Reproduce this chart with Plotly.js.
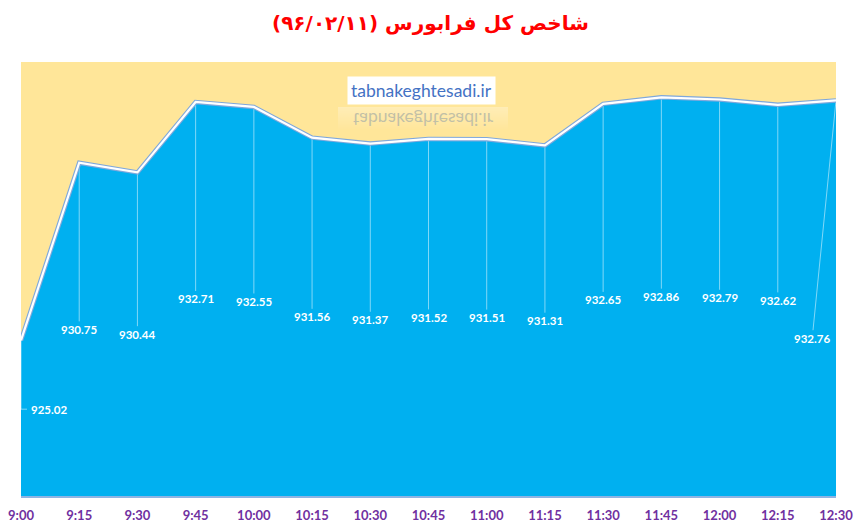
<!DOCTYPE html>
<html>
<head>
<meta charset="utf-8">
<script src="https://cdn.plot.ly/plotly-3.0.1.min.js"></script>
<style>
  html, body { margin: 0; padding: 0; background: #ffffff; }
  #wrap { position: relative; width: 861px; height: 527px; }
  #chart { width: 861px; height: 527px; }
  #reflect {
    position: absolute; left: 338px; top: 107px; width: 170px; height: 24px;
    font-family: Lato, "Open Sans", sans-serif; font-size: 17.5px; color: #4472C4;
    text-align: center; line-height: 24px; transform: scaleY(-1); opacity: 0.32;
    pointer-events: none;
    background: linear-gradient(to top, rgba(255,255,255,0.9), rgba(255,255,255,0));
  }
</style>
</head>
<body>
<div id="wrap">
  <div id="chart"></div>
  <div id="reflect">tabnakeghtesadi.ir</div>
</div>
<script>
// ---- data ----
const times = ['9:00','9:15','9:30','9:45','10:00','10:15','10:30','10:45','11:00','11:15','11:30','11:45','12:00','12:15','12:30'];
const values = [925.02, 930.75, 930.44, 932.71, 932.55, 931.56, 931.37, 931.52, 931.51, 931.31, 932.65, 932.86, 932.79, 932.62, 932.76];
const titleText = '\u200Fشاخص کل فرابورس (۹۶/۰۲/۱۱)\u200F';
const watermark = 'tabnakeghtesadi.ir';
const yMin = 920, yMax = 934;

// ---- layout helpers ----
const W = 861, H = 527;
const M = {l: 21, r: 25, t: 62, b: 31};
const idx = times.map((_, i) => i);
const n = times.length - 1;
const pu = (yMax - yMin) / (H - M.t - M.b);   // data units per px (y)
const xu = n / (W - M.l - M.r);                // data units per px (x)

// label placement (Excel-like "center" labels), with manual offsets for first/last
const labelShift = idx.map(i => i === 0 ? {x: 28, y: 9} : (i === n ? {x: -24, y: -40} : {x: 0, y: 0}));

// leader lines
const lx = [], ly = [];
idx.forEach(i => {
  const v = values[i];
  const mid = (v + yMin) / 2;
  const s = labelShift[i];
  if (i === 0) {
    const yl = mid + s.y * pu;
    lx.push(i, i, i + 6 * xu, null);
    ly.push(v, yl, yl, null);
  } else if (i === n) {
    lx.push(i, i + (s.x + 1) * xu, null);
    ly.push(v, mid + (s.y + 8) * pu, null);
  } else {
    lx.push(i, i, null);
    ly.push(v, mid + 8 * pu, null);
  }
});

const traces = [
  {x: idx, y: values, type: 'scatter', mode: 'lines', fill: 'tozeroy',
   fillcolor: '#00B0F0', line: {width: 0, color: '#00B0F0'}, hoverinfo: 'skip'},
  {x: lx, y: ly, type: 'scatter', mode: 'lines',
   line: {width: 1, color: 'rgba(255,255,255,0.5)'}, hoverinfo: 'skip'},
  {x: idx, y: values, type: 'scatter', mode: 'lines',
   line: {width: 4.5, color: '#7FA8DC'}, hoverinfo: 'skip'},
  {x: idx, y: values, type: 'scatter', mode: 'lines',
   line: {width: 2.2, color: '#FFFFFF'}, hoverinfo: 'skip'}
];

const annotations = idx.map(i => ({
  x: i, y: (values[i] + yMin) / 2, xref: 'x', yref: 'y',
  text: values[i].toFixed(2), showarrow: false,
  xshift: labelShift[i].x, yshift: labelShift[i].y,
  font: {family: 'Lato, "Open Sans", sans-serif', size: 11.5, color: '#FFFFFF', weight: 'bold'}
}));
annotations.push({
  xref: 'paper', yref: 'paper', x: 0.492, y: 0.935, xanchor: 'center', yanchor: 'middle',
  text: watermark, showarrow: false, bgcolor: '#FFFFFF', borderpad: 3,
  font: {family: 'Lato, "Open Sans", sans-serif', size: 17.5, color: '#4472C4'}
});

const layout = {
  width: W, height: H,
  margin: M,
  paper_bgcolor: '#FFFFFF',
  plot_bgcolor: '#FFE699',
  showlegend: false,
  title: {
    text: titleText, xref: 'container', yref: 'container', x: 0.5, y: 1 - 23 / H,
    xanchor: 'center', yanchor: 'middle',
    font: {family: '"DejaVu Sans", sans-serif', size: 20, color: '#FF0000', weight: 'bold'}
  },
  xaxis: {
    range: [0, n], tickmode: 'array', tickvals: idx, ticktext: times,
    showgrid: false, zeroline: false, showline: true, linecolor: '#8EB4E3', linewidth: 2,
    ticks: '', ticklabelstandoff: 6,
    tickfont: {family: 'Lato, "Open Sans", sans-serif', size: 13, color: '#7030A0', weight: 'bold'}
  },
  yaxis: {range: [yMin, yMax], visible: false, showgrid: false, zeroline: false},
  annotations: annotations
};

Plotly.newPlot('chart', traces, layout, {displayModeBar: false, staticPlot: true});
</script>
</body>
</html>
